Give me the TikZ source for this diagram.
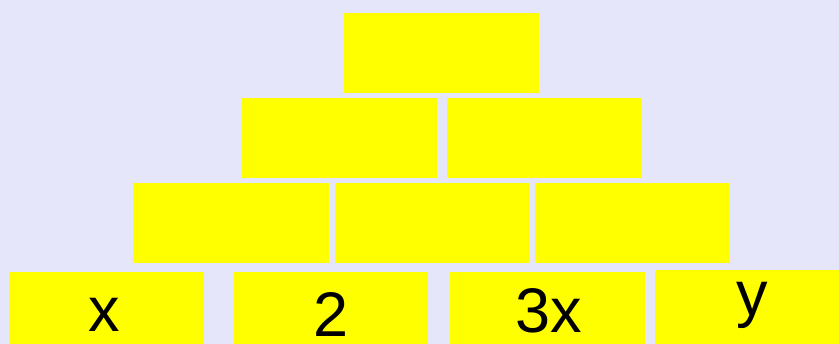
\documentclass[tikz,border=0pt]{standalone}
\usepackage{fontspec}
\setmainfont{Liberation Sans}
\definecolor{bg}{RGB}{230,230,250}
\definecolor{brick}{RGB}{255,255,0}
\begin{document}
\begin{tikzpicture}[x=1pt,y=-1pt,
  brickbox/.style={fill=brick,draw=none},
  lbl/.style={anchor=base,inner sep=0pt,font=\fontsize{63}{63}\selectfont}]
\fill[bg] (0,0) rectangle (839,344);
\useasboundingbox (0,0) rectangle (839,344);
% row 1
\path[brickbox] (344,13.5) rectangle (538.5,93);
% row 2
\path[brickbox] (242,98.3) rectangle (437,178.3);
\path[brickbox] (447.3,98.3) rectangle (641.7,178.3);
% row 3
\path[brickbox] (133.3,183.3) rectangle (328.7,263.3);
\path[brickbox] (335.3,183.3) rectangle (530.3,263.3);
\path[brickbox] (535.3,183.3) rectangle (730.3,263.3);
% row 4
\path[brickbox] (9,271.7) rectangle (203.7,344);
\path[brickbox] (233.7,271.7) rectangle (428,344);
\path[brickbox] (450,271.7) rectangle (645.3,344);
\path[brickbox] (655.3,270) rectangle (839,344);
\node[lbl] (t1) at (104,332) {x};
\node[lbl] (t2) at (331,337) {2};
\node[lbl] (t3) at (549,333) {3x};
\node[lbl] (t4) at (752,316) {y};
\end{tikzpicture}
\end{document}
